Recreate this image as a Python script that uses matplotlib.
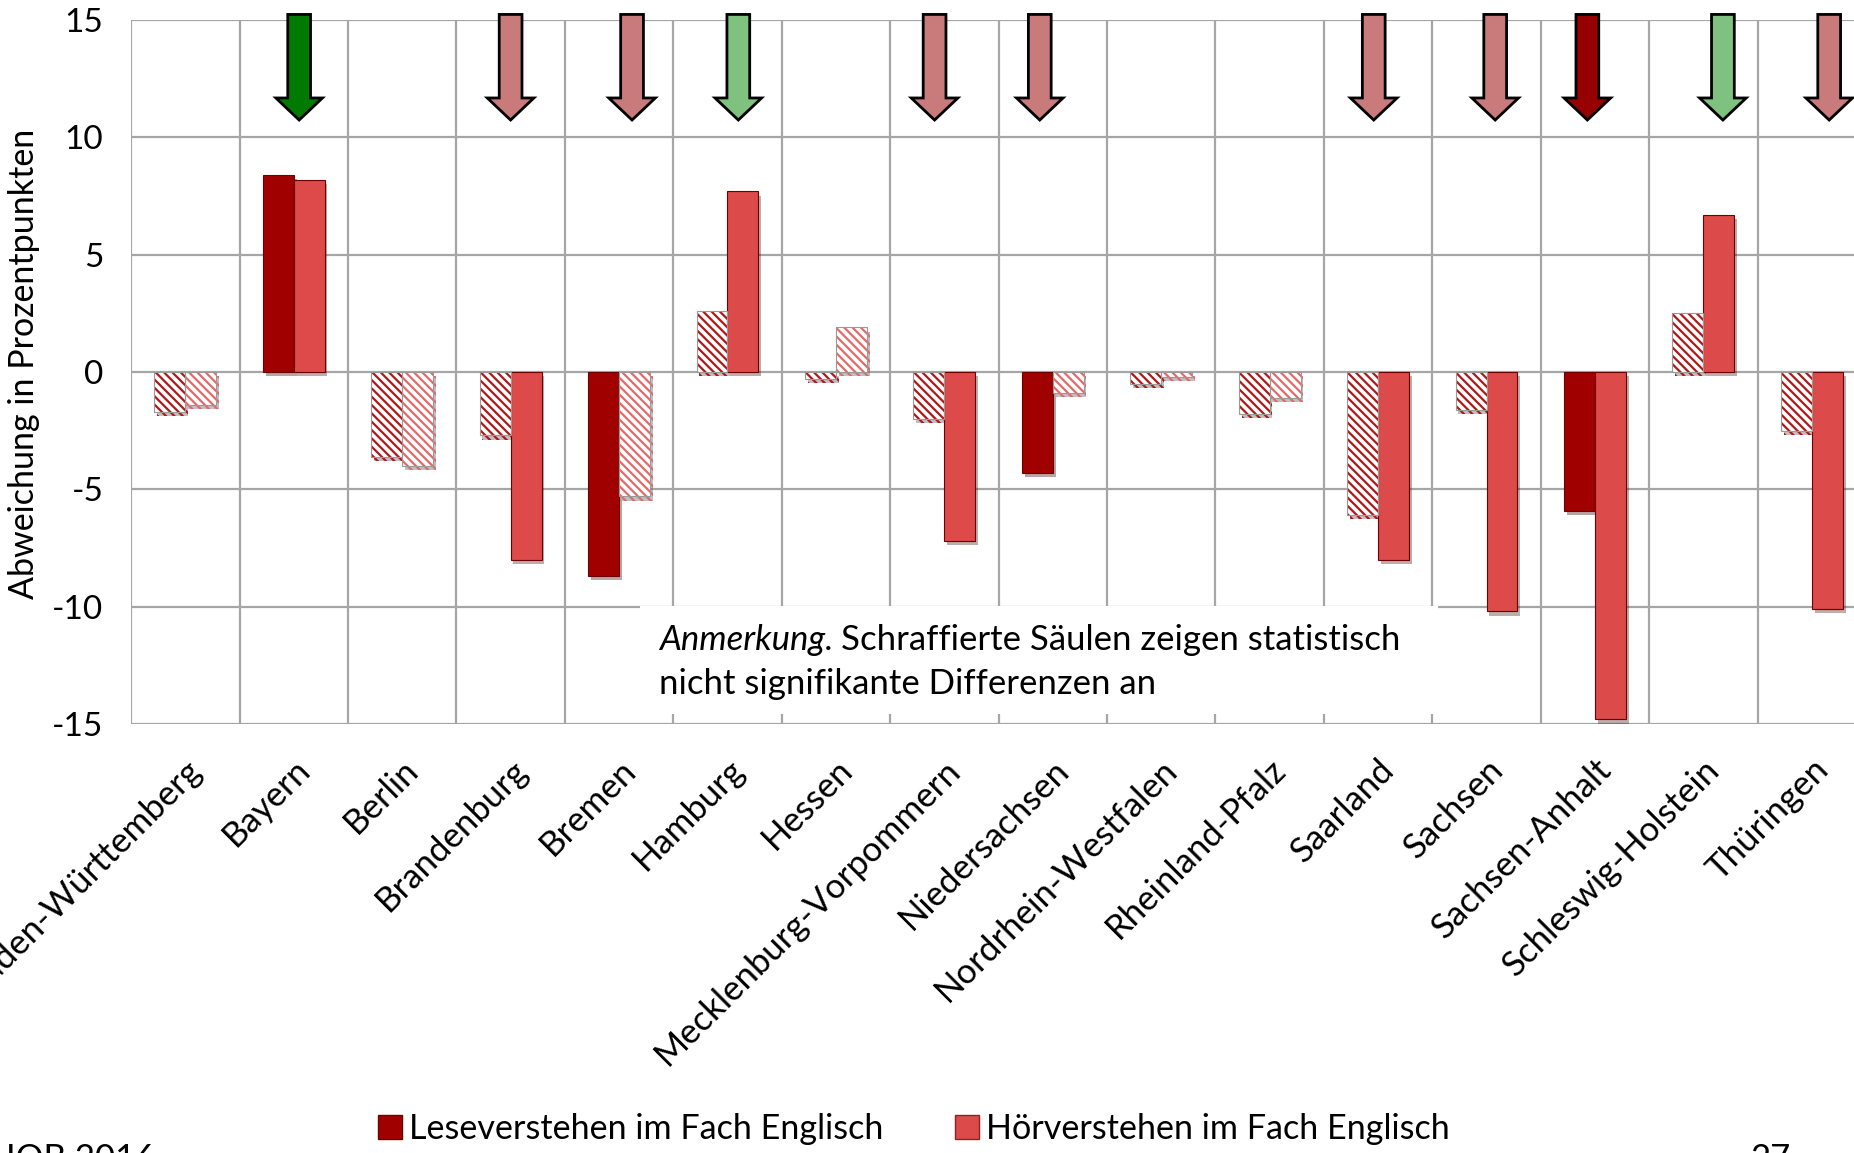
import matplotlib
matplotlib.use("Agg")
import matplotlib.pyplot as plt
import matplotlib.patheffects as pe
from matplotlib.patches import Patch, Polygon, Rectangle
import numpy as np

plt.rcParams['font.family'] = ['Lato', 'DejaVu Sans']
plt.rcParams['hatch.linewidth'] = 1.6

# Abweichung in Prozentpunkten je Land
laender = ['Baden-Württemberg', 'Bayern', 'Berlin', 'Brandenburg', 'Bremen', 'Hamburg', 'Hessen',
           'Mecklenburg-Vorpommern', 'Niedersachsen', 'Nordrhein-Westfalen', 'Rheinland-Pfalz',
           'Saarland', 'Sachsen', 'Sachsen-Anhalt', 'Schleswig-Holstein', 'Thüringen']
lesen = [-1.7, 8.4, -3.6, -2.7, -8.7, 2.6, -0.3, -2.0, -4.3, -0.5, -1.8, -6.1, -1.6, -5.9, 2.5, -2.5]
hoeren = [-1.4, 8.2, -4.0, -8.0, -5.3, 7.7, 1.9, -7.2, -0.9, -0.2, -1.1, -8.0, -10.2, -14.8, 6.7, -10.1]
# 1 = signifikant (volle Saeule), 0 = schraffiert
lesen_sig = [0, 1, 0, 0, 1, 0, 0, 0, 1, 0, 0, 0, 0, 1, 0, 0]
hoeren_sig = [0, 1, 0, 1, 0, 1, 0, 1, 0, 0, 0, 1, 1, 1, 1, 1]

# Pfeile oben: Land, Farbe, kleine Verschiebung wie im Original
pfeil_land = ['Bayern', 'Brandenburg', 'Bremen', 'Hamburg', 'Mecklenburg-Vorpommern', 'Niedersachsen',
              'Saarland', 'Sachsen', 'Sachsen-Anhalt', 'Schleswig-Holstein', 'Thüringen']
pfeil_farbe = ['#007a00', '#c97b7b', '#c97b7b', '#7fc17f', '#c97b7b', '#c97b7b',
               '#c97b7b', '#c97b7b', '#960000', '#7fc17f', '#c97b7b']
pfeil_shift = [0.05, 0.0, 0.12, 0.1, -0.09, -0.12, -0.04, 0.08, -0.07, 0.18, 0.16]

col_lese = '#a10000'
col_hoer = '#dc4a4a'
hatch_lese = '#b01818'
hatch_hoer = '#e46a6a'
grid_col = '#a6a6a6'
FS = 25

fig = plt.figure(figsize=(18.54, 11.53), dpi=100)
ax = fig.add_axes([0.0707, 0.372, 0.9358, 0.6106])

x = np.arange(len(laender))
w = 0.285
shadow = [pe.SimplePatchShadow(offset=(2, -3), alpha=0.35), pe.Normal()]

def draw_bars(xpos, vals, sig, fill, hcol):
    for xi, v, s in zip(xpos, vals, sig):
        if s:
            ax.bar(xi, v, w, color=fill, edgecolor='#6e0000', linewidth=0.8, zorder=3,
                   path_effects=shadow)
        else:
            ax.bar(xi, v, w, color='white', edgecolor=hcol, linewidth=0, hatch='\\\\\\\\',
                   zorder=3, path_effects=shadow)
            ax.bar(xi, v, w, fill=False, edgecolor='#9a9a9a', linewidth=0.8, zorder=4)

draw_bars(x - w / 2, lesen, lesen_sig, col_lese, hatch_lese)
draw_bars(x + w / 2, hoeren, hoeren_sig, col_hoer, hatch_hoer)

ax.set_xlim(-0.5, len(laender) - 0.5)
ax.set_ylim(-15, 15)
ax.set_yticks([-15, -10, -5, 0, 5, 10, 15])
ax.set_yticklabels(['-15', '-10', '-5', '0', '5', '10', '15'], fontsize=24)
ax.set_xticks(x)
ax.set_xticklabels(laender, rotation=45, ha='right', rotation_mode='anchor', fontsize=FS)
ax.set_xticks(np.arange(-0.5, len(laender)), minor=True)
ax.tick_params(axis='both', which='both', length=0)
ax.tick_params(axis='y', pad=20)
ax.tick_params(axis='x', pad=21)
ax.grid(True, axis='y', which='major', color=grid_col, linewidth=1.6, zorder=0)
ax.grid(True, axis='x', which='minor', color=grid_col, linewidth=1.6, zorder=0)
for s in ax.spines.values():
    s.set_visible(False)

# Pfeile
for land, fc, dx in zip(pfeil_land, pfeil_farbe, pfeil_shift):
    cx = laender.index(land) + dx
    sw, hw = 0.105, 0.215
    top, neck, tip = 15.24, 11.68, 10.74
    pts = [(cx - sw, top), (cx + sw, top), (cx + sw, neck), (cx + hw, neck), (cx, tip),
           (cx - hw, neck), (cx - sw, neck)]
    ax.add_patch(Polygon(pts, closed=True, facecolor=fc, edgecolor='black', linewidth=2,
                         zorder=5, clip_on=False))

# Anmerkung (weisses Feld ueber dem Gitter)
ax.add_patch(Rectangle((4.19, -14.58), 7.36, 4.62, facecolor='white', edgecolor='none', zorder=2))
t1 = ax.text(4.37, -11.4, 'Anmerkung.', style='italic', fontsize=FS, va='center', ha='left', zorder=6)
fig.canvas.draw()
bb = t1.get_window_extent()
inv = ax.transData.inverted()
x_end = inv.transform((bb.x1, bb.y0))[0]
ax.text(x_end + 0.07, -11.4, 'Schraffierte Säulen zeigen statistisch', fontsize=FS,
        va='center', ha='left', zorder=6)
ax.text(4.37, -13.3, 'nicht signifikante Differenzen an', fontsize=FS, va='center', ha='left', zorder=6)

fig.text(0.013, 0.684, 'Abweichung in Prozentpunkten', rotation=90, fontsize=24.5,
         ha='center', va='center')

handles = [Patch(facecolor=col_lese, edgecolor='#6e0000'), Patch(facecolor=col_hoer, edgecolor='#8e2020')]
fig.legend(handles, ['Leseverstehen im Fach Englisch', 'Hörverstehen im Fach Englisch'],
           loc='center', bbox_to_anchor=(0.493, 0.021), ncol=2, frameon=False, fontsize=24.6,
           handlelength=0.7, handleheight=0.7, handletextpad=0.2, columnspacing=2.1)

# abgeschnittene Fusszeile
fig.text(0.003, 0.0087, 'IQB 2016', fontsize=FS, va='top', ha='left')
fig.text(0.944, 0.0087, '27', fontsize=FS, va='top', ha='left')

fig.savefig('out.png', dpi=100)
